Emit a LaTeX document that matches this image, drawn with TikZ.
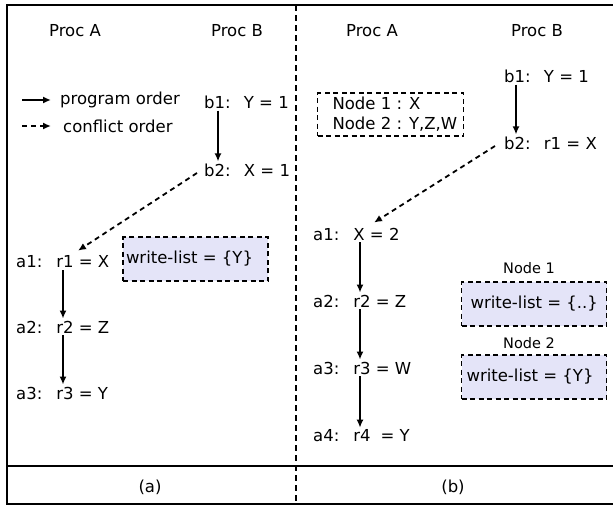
\documentclass[tikz,border=0pt]{standalone}
\usepackage{fontspec}
\setmainfont{DejaVu Sans}
\usetikzlibrary{arrows.meta}
\definecolor{wlfill}{RGB}{228,228,248}
% text set flush left inside a box of fixed width, after a given indent
\newcommand{\leftin}[3]{\makebox[#1][l]{\hspace{#2}#3}}
\tikzset{
  frameline/.style={line width=2pt},
  sepline/.style={line width=1.8pt, dash pattern=on 6pt off 4pt},
  txt/.style={font=\fontsize{16.5}{19}\selectfont, inner sep=2pt},
  smalltxt/.style={font=\fontsize{14.5}{17}\selectfont, inner sep=2pt},
  stmt/.style={txt, anchor=west},
  prog/.style={line width=1.8pt, -{Latex[length=8pt,width=7pt]}},
  confl/.style={line width=1.8pt, dash pattern=on 5pt off 4pt, -{Latex[length=8pt,width=7pt]}},
  dbox/.style={txt, draw, line width=1.8pt, dash pattern=on 5pt off 3.5pt, inner xsep=0pt},
  wlist/.style={dbox, fill=wlfill, minimum height=44pt},
}
\begin{document}
\begin{tikzpicture}[x=1pt, y=-1pt]
  \useasboundingbox (0,0) rectangle (613,506);

  % outer frame and caption row
  \draw[frameline] (613,5) -- (7,5) -- (7,504) -- (613,504);
  \draw[frameline] (7,466) -- (613,466);
  \draw[sepline] (296,5) -- (296,504);

  % ---------- left panel ----------
  \node[txt] (pa1) at (75,31) {Proc A};
  \node[txt] (pb1) at (237,31) {Proc B};

  % legend
  \coordinate (l1s) at (22,100);
  \coordinate (l1e) at (51,100);
  \coordinate (l2s) at (22,126);
  \coordinate (l2e) at (51,126);
  \draw[prog] (l1s) -- (l1e);
  \draw[confl] (l2s) -- (l2e);
  \node[stmt] (lg1) at (58,100) {program order};
  \node[stmt] (lg2) at (61,126) {conflict order};

  \node[stmt] (b1) at (202,102) {b1:\hspace{0.8em}Y = 1};
  \node[stmt] (b2) at (202,170) {b2:\hspace{0.8em}X = 1};
  \draw[prog] ([xshift=16pt]b1.south west) -- ([xshift=16pt]b2.north west);

  \node[stmt] (a1) at (14,262) {a1:\hspace{0.85em}r1 = X};
  \node[stmt] (a2) at (14,327) {a2:\hspace{0.85em}r2 = Z};
  \node[stmt] (a3) at (14,393) {a3:\hspace{0.85em}r3 = Y};
  \draw[prog] ([xshift=49pt]a1.south west) -- ([xshift=49pt]a2.north west);
  \draw[prog] ([xshift=49pt]a2.south west) -- ([xshift=49pt]a3.north west);
  \draw[confl] ([xshift=-5pt,yshift=-3pt]b2.west) -- ([xshift=64pt,yshift=3pt]a1.north west);

  \node[wlist] (wa) at (195.5,259) {\leftin{145pt}{3pt}{write-list = \{Y\}}};

  \node[txt] (capa) at (150,487) {(a)};

  % ---------- right panel ----------
  \node[txt] (pa2) at (372,31) {Proc A};
  \node[txt] (pb2) at (537,31) {Proc B};

  \node[dbox, minimum height=43pt] (nodes) at (390.5,114.5)
    {\leftin{146pt}{15pt}{\shortstack[l]{Node 1 : X\\[4pt]Node 2 : Y,Z,W}}};

  \node[stmt] (rb1) at (502,76) {b1:\hspace{0.8em}Y = 1};
  \node[stmt] (rb2) at (502,143) {b2:\hspace{0.8em}r1 = X};
  \draw[prog] ([xshift=14pt]rb1.south west) -- ([xshift=14pt]rb2.north west);

  \node[stmt] (ra1) at (311,234) {a1:\hspace{0.85em}X = 2};
  \node[stmt] (ra2) at (311,301) {a2:\hspace{0.85em}r2 = Z};
  \node[stmt] (ra3) at (311,368) {a3:\hspace{0.85em}r3 = W};
  \node[stmt] (ra4) at (311,436) {a4:\hspace{0.85em}r4\hspace{0.6em}= Y};
  \draw[prog] ([xshift=49pt]ra1.south west) -- ([xshift=49pt]ra2.north west);
  \draw[prog] ([xshift=49pt]ra2.south west) -- ([xshift=49pt]ra3.north west);
  \draw[prog] ([xshift=49pt]ra3.south west) -- ([xshift=49pt]ra4.north west);
  \draw[confl] ([xshift=-7pt,yshift=-3pt]rb2.west) -- ([xshift=63pt,yshift=3pt]ra1.north west);

  \node[smalltxt] (n1) at (529,268) {Node 1};
  \node[wlist] (wb1) at (534,304) {\leftin{145pt}{9pt}{write-list = \{..\}}};
  \node[smalltxt] (n2) at (529,343) {Node 2};
  \node[wlist] (wb2) at (534,377) {\leftin{145pt}{5pt}{write-list = \{Y\}}};

  \node[txt] (capb) at (453,487) {(b)};
\end{tikzpicture}
\end{document}
